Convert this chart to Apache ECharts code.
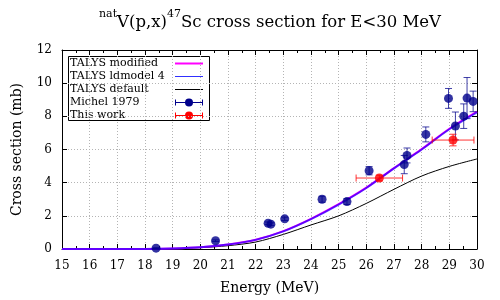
<!DOCTYPE html>
<html>
<head>
<meta charset="utf-8">
<script src="https://cdn.jsdelivr.net/npm/echarts@6/dist/echarts.min.js"></script>
<style>html,body{margin:0;padding:0;background:#fff}#c{width:500px;height:300px}</style>
</head>
<body>
<div id="c"></div>
<script>
// ---- data ----
const curveE = [15,16,17,18,19,20,21,22,23,24,25,26,27,28,29,30];
const talysModified = [0,0,0,0.005,0.03,0.1,0.27,0.56,1.08,1.82,2.7,3.7,4.88,6.02,7.25,8.28];
const talysLdmodel4 = [0,0,0,0.005,0.03,0.1,0.27,0.55,1.06,1.8,2.68,3.68,4.86,6.0,7.22,8.24];
const talysDefault  = [0,0,0,0.004,0.025,0.08,0.2,0.42,0.88,1.45,2.0,2.75,3.6,4.4,4.98,5.43];

const michelE   = [18.4,20.55,22.45,22.55,23.05,24.4,25.3,26.1,27.37,27.47,28.15,28.97,29.22,29.52,29.64,29.86];
const michelXS  = [0.05,0.5,1.55,1.5,1.82,3.0,2.86,4.72,5.09,5.64,6.91,9.08,7.42,8.01,9.1,8.9];
const michelErr = [0.03,0.05,0.08,0.08,0.1,0.18,0.18,0.25,0.55,0.45,0.45,0.6,0.84,0.74,1.24,0.62];

const workE    = [26.47,29.135];
const workXS   = [4.28,6.57];
const workEerr = [0.84,0.755];
const workXSerr= [0.17,0.35];

const xTicks = {min:15, max:30, interval:1};
const yTicks = {min:0, max:12, interval:2};

// ---- chart ----
const FONT = 'DejaVu Serif';
const chart = echarts.init(document.getElementById('c'), null, {renderer:'canvas'});

function errBarRender(color, capHalf){
  return function(params, api){
    const x = api.value(0), y = api.value(1), ex = api.value(2), ey = api.value(3);
    const children = [];
    const st = {stroke: color, lineWidth: 1};
    if (ey > 0){
      const t = api.coord([x, y+ey]), b = api.coord([x, y-ey]);
      children.push({type:'line', shape:{x1:t[0],y1:t[1],x2:b[0],y2:b[1]}, style:st});
      children.push({type:'line', shape:{x1:t[0]-capHalf,y1:t[1],x2:t[0]+capHalf,y2:t[1]}, style:st});
      children.push({type:'line', shape:{x1:b[0]-capHalf,y1:b[1],x2:b[0]+capHalf,y2:b[1]}, style:st});
    }
    if (ex > 0){
      const l = api.coord([x-ex, y]), r = api.coord([x+ex, y]);
      children.push({type:'line', shape:{x1:l[0],y1:l[1],x2:r[0],y2:r[1]}, style:st});
      children.push({type:'line', shape:{x1:l[0],y1:l[1]-capHalf,x2:l[0],y2:l[1]+capHalf}, style:st});
      children.push({type:'line', shape:{x1:r[0],y1:r[1]-capHalf,x2:r[0],y2:r[1]+capHalf}, style:st});
    }
    return {type:'group', children};
  };
}

const axisCommon = {
  axisLine:{show:true, onZero:false, lineStyle:{color:'#000', width:1}},
  axisTick:{show:true, inside:true, length:5, lineStyle:{color:'#000'}},
};

const legendRows = [
  {name:'TALYS modified', kind:'line', color:'#ff00ff', w:2},
  {name:'TALYS ldmodel 4', kind:'line', color:'#3030ff', w:1},
  {name:'TALYS default', kind:'line', color:'#000', w:1},
  {name:'Michel 1979', kind:'err', color:'#00008b'},
  {name:'This work', kind:'err', color:'#ff0000'}
];
const lgX = 68, lgY = 56, lgW = 141, lgH = 64, rowH = 12.8, row0 = 63.3;
const legendChildren = [{type:'rect', shape:{x:lgX+0.5,y:lgY+0.5,width:lgW,height:lgH}, style:{fill:'#fff', stroke:'#000', lineWidth:1}}];
legendRows.forEach((r,i)=>{
  const cy = Math.round(row0 + i*rowH) + 0.5;
  legendChildren.push({type:'text', x:lgX+2, y:cy, style:{text:r.name, font:'11px "DejaVu Serif"', fill:'#000', verticalAlign:'middle', align:'left'}});
  if (r.kind==='line'){
    legendChildren.push({type:'line', shape:{x1:175,y1:cy,x2:203,y2:cy}, style:{stroke:r.color, lineWidth:r.w}});
  } else {
    const st = {stroke:r.color, lineWidth:1};
    legendChildren.push({type:'line', shape:{x1:175,y1:cy,x2:203,y2:cy}, style:st});
    legendChildren.push({type:'line', shape:{x1:175.5,y1:cy-3,x2:175.5,y2:cy+3}, style:st});
    legendChildren.push({type:'line', shape:{x1:202.5,y1:cy-3,x2:202.5,y2:cy+3}, style:st});
    legendChildren.push({type:'circle', shape:{cx:189,cy:cy,r:4}, style:{fill:r.color}});
  }
});

const option = {
  animation:false,
  backgroundColor:'#fff',
  title:{
    text:'{s|nat}{m|V(p,x)}{s|47}{m|Sc cross section for E<30 MeV}',
    left:94, top:4,
    textStyle:{
      fontFamily:FONT, fontWeight:'normal', color:'#000', fontSize:16,
      rich:{
        m:{fontFamily:FONT, fontSize:16.5, lineHeight:22, verticalAlign:'bottom', color:'#000'},
        s:{fontFamily:FONT, fontSize:11, lineHeight:14, verticalAlign:'top', color:'#000'}
      }
    }
  },
  grid:{left:62, right:23, top:50, bottom:48, containLabel:false},
  xAxis:[
    Object.assign({
      type:'value', position:'bottom', min:xTicks.min, max:xTicks.max, interval:xTicks.interval,
      minorTick:{show:true, splitNumber:2, length:3, lineStyle:{color:'#000'}},
      axisLabel:{fontFamily:FONT, fontSize:12, color:'#000', margin:11},
      splitLine:{show:true, lineStyle:{color:'#b4b4b4', type:[1,2], width:1}},
      name:'Energy (MeV)', nameLocation:'middle', nameGap:32,
      nameTextStyle:{fontFamily:FONT, fontSize:14, color:'#000'}
    }, axisCommon),
    Object.assign({
      type:'value', position:'top', min:xTicks.min, max:xTicks.max, interval:xTicks.interval,
      minorTick:{show:true, splitNumber:2, length:3, lineStyle:{color:'#000'}},
      axisLabel:{show:false}, splitLine:{show:false}
    }, axisCommon)
  ],
  yAxis:[
    Object.assign({
      type:'value', position:'left', min:yTicks.min, max:yTicks.max, interval:yTicks.interval,
      axisLabel:{fontFamily:FONT, fontSize:12, color:'#000', margin:10},
      splitLine:{show:true, lineStyle:{color:'#b4b4b4', type:[1,2], width:1}},
      name:'Cross section (mb)', nameLocation:'middle', nameGap:38, nameRotate:90,
      nameTextStyle:{fontFamily:FONT, fontSize:14, color:'#000'}
    }, axisCommon),
    Object.assign({
      type:'value', position:'right', min:yTicks.min, max:yTicks.max, interval:yTicks.interval,
      axisLabel:{show:false}, splitLine:{show:false}
    }, axisCommon)
  ],
  series:[
    {name:'TALYS default', type:'line', data:curveE.map((e,i)=>[e,talysDefault[i]]), smooth:0.3,
      showSymbol:false, lineStyle:{color:'#000', width:1}, z:3},
    {name:'TALYS modified', type:'line', data:curveE.map((e,i)=>[e,talysModified[i]]), smooth:0.3,
      showSymbol:false, lineStyle:{color:'#ff00ff', width:2}, z:4},
    {name:'TALYS ldmodel 4', type:'line', data:curveE.map((e,i)=>[e,talysLdmodel4[i]]), smooth:0.3,
      showSymbol:false, lineStyle:{color:'#0000ff', width:2, opacity:0.62}, z:5},
    {name:'Michel err', type:'custom', renderItem:errBarRender('rgba(0,0,139,0.75)', 3.5),
      data:michelE.map((e,i)=>[e, michelXS[i], 0, michelErr[i]]), z:6, silent:true},
    {name:'This work err', type:'custom', renderItem:errBarRender('rgba(255,0,0,0.8)', 3.5),
      data:workE.map((e,i)=>[e, workXS[i], workEerr[i], workXSerr[i]]), z:6, silent:true},
    {name:'Michel 1979', type:'scatter', data:michelE.map((e,i)=>[e, michelXS[i]]), symbol:'circle', symbolSize:9,
      itemStyle:{color:'#00008b'}, z:7},
    {name:'This work', type:'scatter', data:workE.map((e,i)=>[e, workXS[i]]), symbol:'circle', symbolSize:9,
      itemStyle:{color:'#ff0000'}, z:7}
  ],
  graphic:[{type:'group', z:100, children:legendChildren}]
};
chart.setOption(option);
</script>
</body>
</html>
